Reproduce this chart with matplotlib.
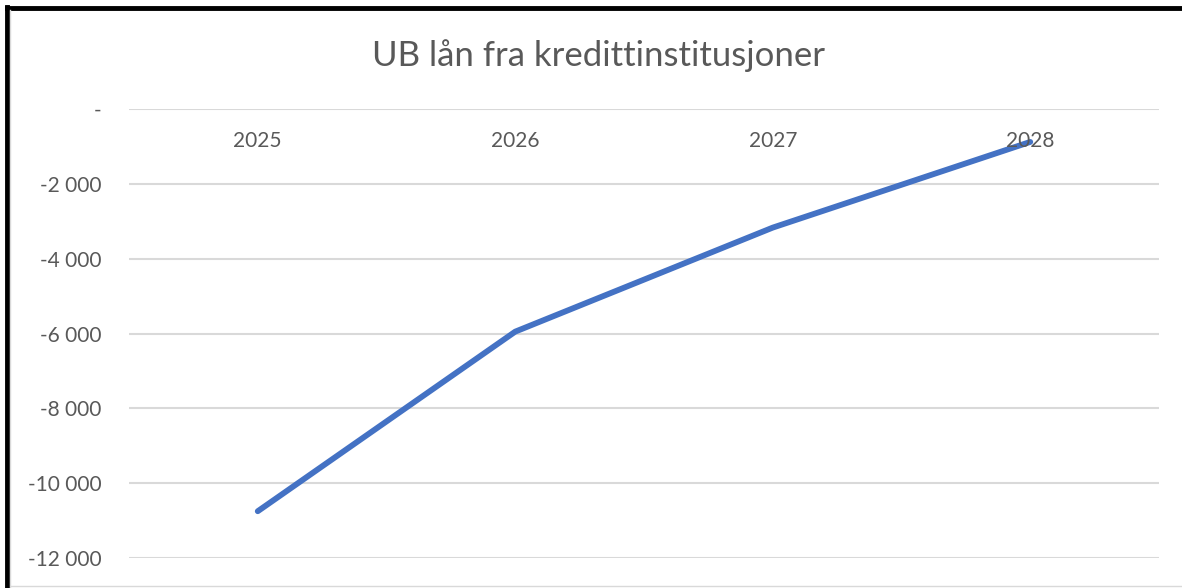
import matplotlib
matplotlib.use('Agg')
import matplotlib.pyplot as plt
from matplotlib.ticker import FuncFormatter, MultipleLocator
from matplotlib.lines import Line2D

# Data
years = ['2025', '2026', '2027', '2028']
ub_lan = [-10750, -5950, -3170, -880]

title = 'UB lån fra kredittinstitusjoner'
textColor = '#595959'
gridColor = '#D9D9D9'
lineColor = '#4472C4'

plt.rcParams['font.family'] = ['Lato', 'DejaVu Sans']

W, H = 1182, 588
fig = plt.figure(figsize=(W / 100, H / 100), dpi=100)
ax = fig.add_axes([129 / W, 1 - 558 / H, (1159 - 129) / W, (558 - 109) / H])

# Format y labels like Excel: "-" for zero, space as thousands separator
def formatY(v, pos):
    if abs(v) < 1e-9:
        return '-'
    return '{:,.0f}'.format(v).replace(',', ' ')

xs = list(range(len(years)))
ax.plot(xs, ub_lan, color=lineColor, linewidth=4.2, solid_capstyle='round', zorder=3)

ax.set_xlim(-0.5, len(years) - 0.5)
ax.set_ylim(-12000, 0)
ax.yaxis.set_major_locator(MultipleLocator(2000))
ax.yaxis.set_major_formatter(FuncFormatter(formatY))
ax.grid(axis='y', color=gridColor, linewidth=1.5)
ax.set_axisbelow(True)
ax.set_xticks([])
ax.tick_params(axis='y', length=0, pad=20, labelsize=15, labelcolor=textColor)
for s in ax.spines.values():
    s.set_visible(False)

# Category labels sit just under the zero line
for i, y in enumerate(years):
    ax.text(i, 1 - 32 / 449, y, transform=ax.get_xaxis_transform(),
            ha='center', va='center', fontsize=15, color=textColor, zorder=4)

fig.text(599 / W, 1 - 56 / H, title, ha='center', va='center', fontsize=25, color=textColor)

# Frame: thin gray chart border plus thick black line top/left
fig.add_artist(Line2D([11 / W, 1], [1 - 586 / H, 1 - 586 / H], transform=fig.transFigure, color='#D9D9D9', linewidth=1))
fig.add_artist(Line2D([7 / W, 1], [1 - 8 / H, 1 - 8 / H], transform=fig.transFigure, color='black', linewidth=3.5))
fig.add_artist(Line2D([7 / W, 7 / W], [0, 1 - 7 / H], transform=fig.transFigure, color='black', linewidth=3.5))
fig.add_artist(Line2D([10 / W, 10 / W], [0, 1 - 10 / H], transform=fig.transFigure, color='#D9D9D9', linewidth=1))

fig.savefig('out.png', dpi=100)
plt.close(fig)
